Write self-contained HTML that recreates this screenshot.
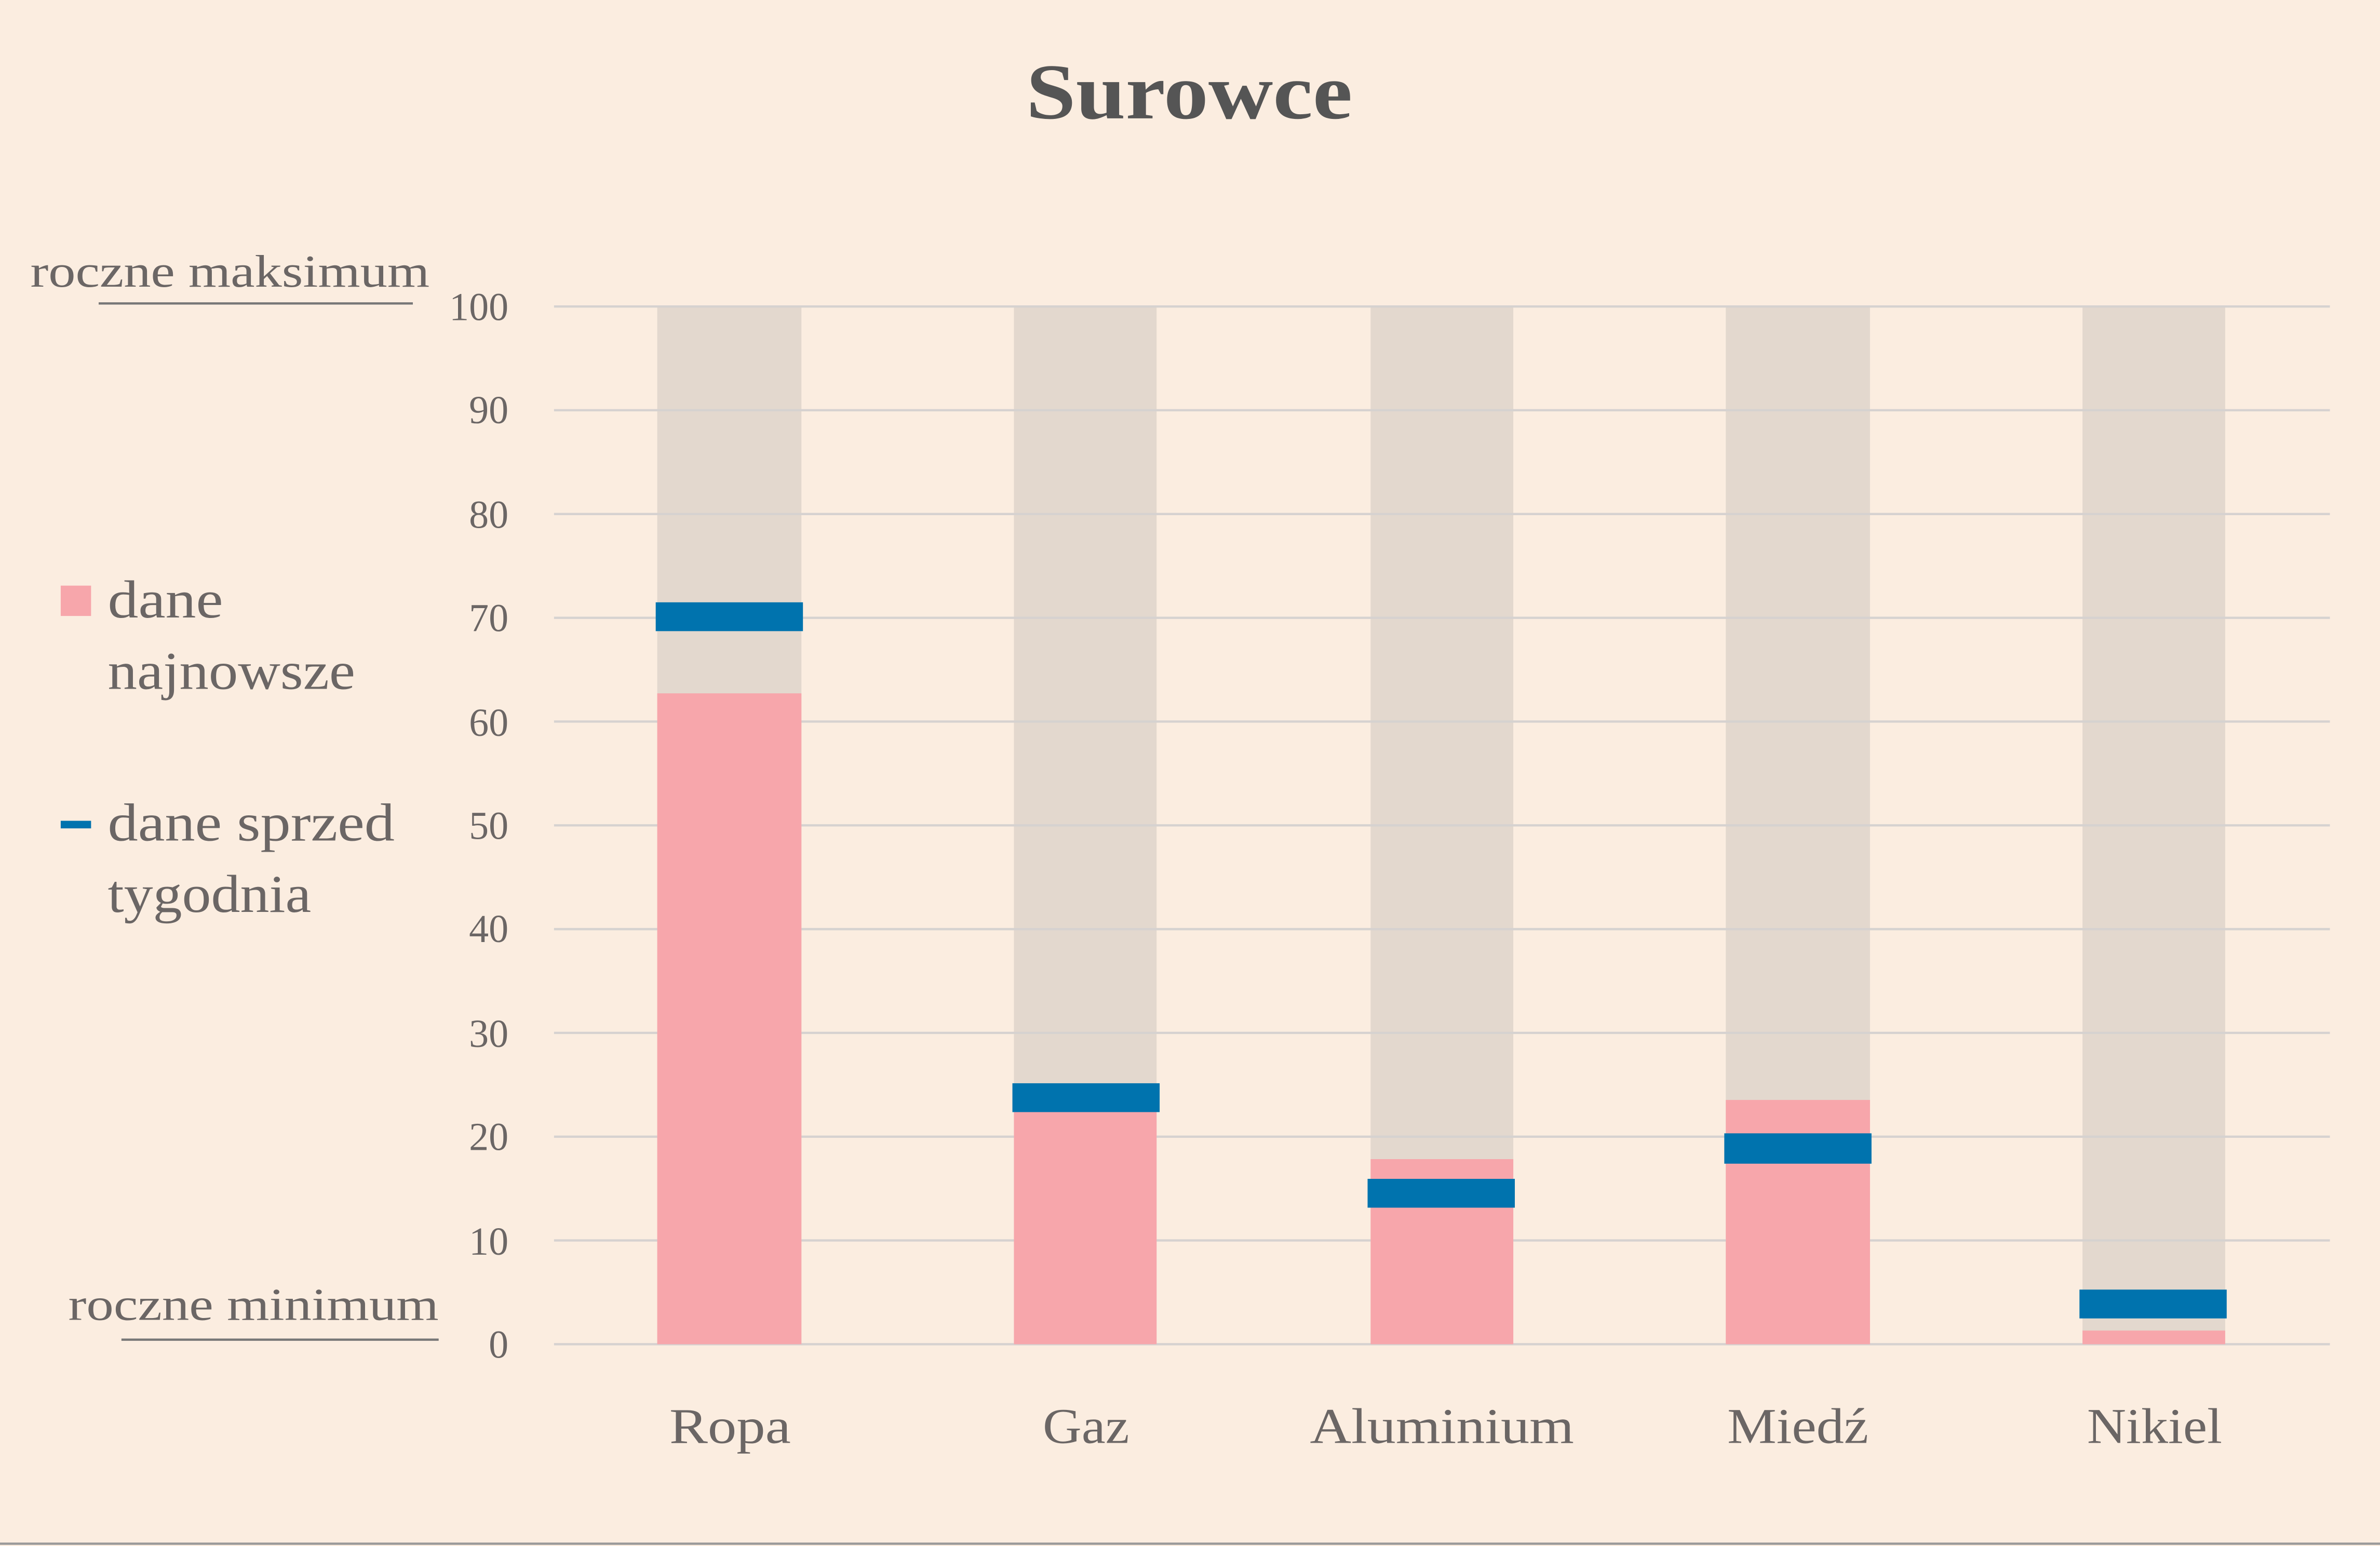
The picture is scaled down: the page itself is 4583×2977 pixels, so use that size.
<!DOCTYPE html>
<html><head><meta charset="utf-8"><style>
html,body{margin:0;padding:0;background:#FBEDE0;}
svg{display:block;}
text{font-family:"Liberation Serif",serif;fill:#6b6665;}
</style></head><body>
<svg width="4583" height="2977" viewBox="0 0 1568 1019" preserveAspectRatio="none" xmlns="http://www.w3.org/2000/svg">
<rect width="1568" height="1019" fill="#FBEDE0"/>
<text x="676" y="78" font-size="52" font-weight="bold" textLength="215" lengthAdjust="spacingAndGlyphs" style="fill:#555">Surowce</text>
<g fill="#E3D8CE">
<rect x="433" y="202" width="95" height="684"/>
<rect x="668" y="202" width="94" height="684"/>
<rect x="903" y="202" width="94" height="684"/>
<rect x="1137" y="202" width="95" height="684"/>
<rect x="1372" y="202" width="94" height="684"/>
</g>
<g stroke="#D6D2D0" stroke-width="1.5">
<line x1="365" x2="1535" y1="202" y2="202"/>
<line x1="365" x2="1535" y1="270.4" y2="270.4"/>
<line x1="365" x2="1535" y1="338.8" y2="338.8"/>
<line x1="365" x2="1535" y1="407.2" y2="407.2"/>
<line x1="365" x2="1535" y1="475.6" y2="475.6"/>
<line x1="365" x2="1535" y1="544" y2="544"/>
<line x1="365" x2="1535" y1="612.4" y2="612.4"/>
<line x1="365" x2="1535" y1="680.8" y2="680.8"/>
<line x1="365" x2="1535" y1="749.2" y2="749.2"/>
<line x1="365" x2="1535" y1="817.6" y2="817.6"/>
<line x1="365" x2="1535" y1="886" y2="886"/>
</g>
<g fill="#F7A6AB">
<rect x="433" y="457" width="95" height="429"/>
<rect x="668" y="729" width="94" height="157"/>
<rect x="903" y="764" width="94" height="122"/>
<rect x="1137" y="725" width="95" height="161"/>
<rect x="1372" y="877" width="94" height="9"/>
</g>
<g fill="#0073AE">
<rect x="432" y="397" width="97" height="19"/>
<rect x="667" y="714" width="97" height="19"/>
<rect x="901" y="777" width="97" height="19"/>
<rect x="1136" y="747" width="97" height="20"/>
<rect x="1370" y="850" width="97" height="19"/>
</g>
<g font-size="26" text-anchor="end">
<text x="335" y="211">100</text>
<text x="335" y="279">90</text>
<text x="335" y="348">80</text>
<text x="335" y="416">70</text>
<text x="335" y="485">60</text>
<text x="335" y="553">50</text>
<text x="335" y="621">40</text>
<text x="335" y="690">30</text>
<text x="335" y="758">20</text>
<text x="335" y="827">10</text>
<text x="335" y="895">0</text>
</g>
<g font-size="33" lengthAdjust="spacingAndGlyphs">
<text x="441" y="951" textLength="80" lengthAdjust="spacingAndGlyphs">Ropa</text>
<text x="687" y="951" textLength="57" lengthAdjust="spacingAndGlyphs">Gaz</text>
<text x="863" y="951" textLength="174" lengthAdjust="spacingAndGlyphs">Aluminium</text>
<text x="1138" y="951" textLength="93" lengthAdjust="spacingAndGlyphs">Miedź</text>
<text x="1375" y="951" textLength="89" lengthAdjust="spacingAndGlyphs">Nikiel</text>
</g>
<text x="20" y="189" font-size="30" textLength="263" lengthAdjust="spacingAndGlyphs">roczne maksimum</text>
<line x1="65" x2="272" y1="200" y2="200" stroke="#777" stroke-width="1.5"/>
<text x="45" y="870" font-size="30" textLength="244" lengthAdjust="spacingAndGlyphs">roczne minimum</text>
<line x1="80" x2="289" y1="883" y2="883" stroke="#777" stroke-width="1.5"/>
<rect x="40" y="386" width="20" height="20" fill="#F7A6AB"/>
<text x="71" y="407" font-size="35" textLength="76" lengthAdjust="spacingAndGlyphs">dane</text>
<text x="71" y="454" font-size="35" textLength="163" lengthAdjust="spacingAndGlyphs">najnowsze</text>
<rect x="40" y="541" width="20" height="5" fill="#0073AE"/>
<text x="71" y="554" font-size="35" textLength="189" lengthAdjust="spacingAndGlyphs">dane sprzed</text>
<text x="71" y="601" font-size="35" textLength="134" lengthAdjust="spacingAndGlyphs">tygodnia</text>
<line x1="0" x2="1568" y1="1017.5" y2="1017.5" stroke="#999" stroke-width="1.5"/>
</svg>
</body></html>
